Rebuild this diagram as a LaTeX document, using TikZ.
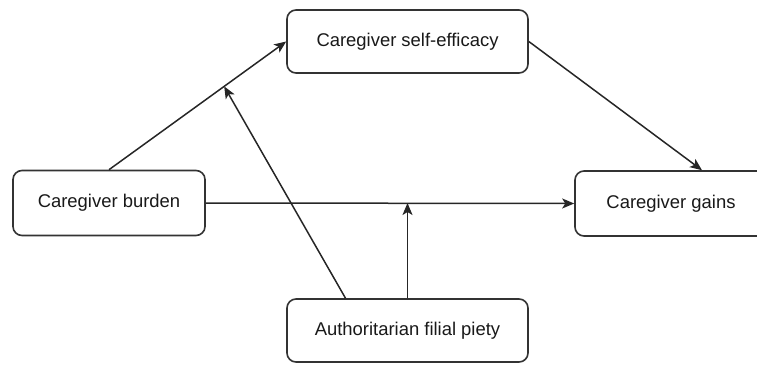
\documentclass[tikz,border=0pt]{standalone}
\usepackage{fontspec}
\setmainfont{Liberation Sans}
\usetikzlibrary{calc, arrows.meta}

\begin{document}
\begin{tikzpicture}[x = 1bp, y = 1bp]
	\tikzstyle {factor} = [draw = black!80, line width = 1.6bp, rounded corners = 9bp, fill = white, inner sep = 0pt, text = black!90, font = \fontsize{18.5}{22}\selectfont];
	\tikzstyle {link} = [-{Stealth[length = 12bp, width = 10bp, inset = 3bp]}, line width = 1.5bp, draw = black!85];
	\useasboundingbox (0, 0) rectangle (757, 364);
	\clip (0, 0) rectangle (757, 364);
	\node[factor, minimum width = 241bp, minimum height = 63bp] (efficacy) at (407.5, 322.5) {Caregiver self-efficacy};
	\node[factor, minimum width = 192bp, minimum height = 65bp] (burden) at (109, 161) {Caregiver burden};
	\node[factor, minimum width = 192bp, minimum height = 65bp] (gains) at (671, 160.5) {Caregiver gains};
	\node[factor, minimum width = 241bp, minimum height = 63bp] (piety) at (407.5, 33.5) {Authoritarian filial piety};
	\coordinate (mida) at ($(burden.north)!0.65!(efficacy.west)$);
	\coordinate (midb) at (piety.north |- burden.east);
	\draw[link] (burden.north) -- (efficacy.west);
	\draw[link] (efficacy.east) -- ([xshift = 31bp] gains.north);
	\draw[link] (burden.east) -- (gains.west);
	\draw[link] (piety.north) -- (midb);
	\draw[link] ([xshift = -62bp] piety.north) -- (mida);
\end{tikzpicture}
\end{document}
